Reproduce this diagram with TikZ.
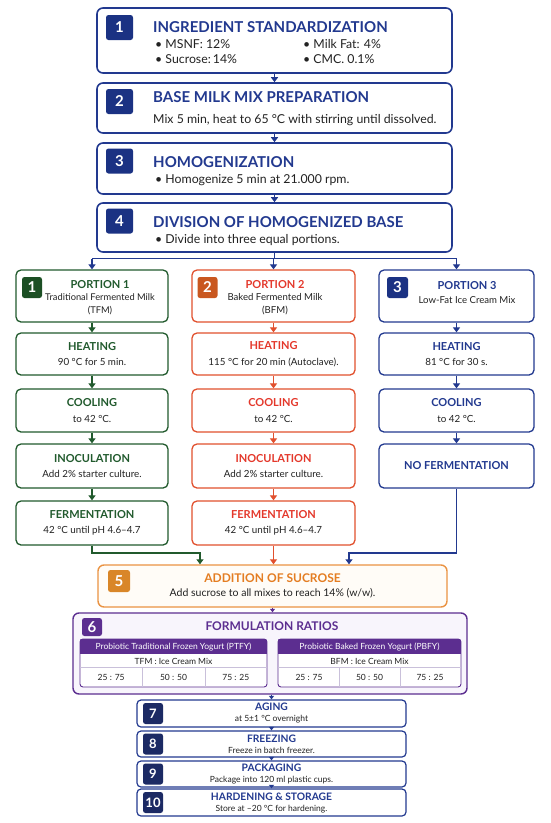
\documentclass[tikz,border=0pt]{standalone}
\usepackage{fontspec}
\setmainfont{Lato}
\usetikzlibrary{arrows.meta, calc}
\definecolor{navyline}{HTML}{22398F}
\definecolor{navybadge}{HTML}{1B3283}
\definecolor{navydeep}{HTML}{1C2A64}
\definecolor{greenline}{HTML}{215A2D}
\definecolor{greenbadge}{HTML}{1C4F24}
\definecolor{redline}{HTML}{E1502E}
\definecolor{redtitle}{HTML}{E4382B}
\definecolor{redbadge}{HTML}{C9571F}
\definecolor{orangeline}{HTML}{EA9343}
\definecolor{orangetitle}{HTML}{E47D22}
\definecolor{orangebadge}{HTML}{D98628}
\definecolor{orangefill}{HTML}{FFFCF7}
\definecolor{purpleline}{HTML}{5C2E90}
\definecolor{purplefill}{HTML}{F8F5FC}
\definecolor{gridline}{HTML}{C9C0DA}
\definecolor{bodytext}{HTML}{222222}
\newcommand{\fs}[2]{\fontsize{#1}{#2}\selectfont}
\newcommand{\steptitle}[2]{{\bfseries\fs{11}{15.5}\color{#1}#2}}
\tikzset{
  mainbox/.style={rectangle, rounded corners=6pt, draw=navyline, fill=white,
      line width=1.6pt, minimum width=355pt, inner sep=0pt},
  numbadge/.style={rectangle, rounded corners=2.5pt, fill=#1, text=white,
      inner sep=0pt, font=\bfseries\fs{15}{15}},
  maintitle/.style={anchor=base west, inner sep=0pt, text=navyline,
      font=\bfseries\fs{15}{18}},
  maintext/.style={anchor=base west, inner sep=0pt, text=bodytext,
      font=\fs{12.3}{14}},
  colbox/.style={rectangle, rounded corners=5pt, draw=#1, fill=white,
      line width=1.3pt, inner sep=0pt, align=center, text=bodytext,
      font=\fs{9.8}{15.5}},
  bottombox/.style={rectangle, rounded corners=4pt, draw=navyline, fill=white,
      line width=1.2pt, minimum width=269pt, inner sep=0pt, align=center,
      text=bodytext, font=\fs{8.5}{11}},
  flowarrow/.style={draw=#1, line width=1.3pt, -{Triangle[width=7pt,length=5pt]}},
  smallarrow/.style={draw=#1, line width=1pt, -{Triangle[width=5pt,length=3.5pt]}},
  celltext/.style={inner sep=0pt, text=bodytext, font=\fs{8.5}{10}}
}

\begin{document}
\begin{tikzpicture}[x=1pt, y=-1pt]
\useasboundingbox (0,0) rectangle (550,823);
\fill[white] (0,0) rectangle (550,823);

% main steps
\node[mainbox, minimum height=65pt] (s1) at (274.5,40.5) {};
\node[mainbox, minimum height=50pt] (s2) at (274.5,108) {};
\node[mainbox, minimum height=51pt] (s3) at (274.5,168.5) {};
\node[mainbox, minimum height=49pt] (s4) at (274.5,227.5) {};

\node[numbadge=navybadge, minimum width=27pt, minimum height=25pt] (n1) at (119.5,27.5) {1};
\node[numbadge=navybadge, minimum width=27pt, minimum height=25pt] (n2) at (119.5,101.5) {2};
\node[numbadge=navybadge, minimum width=27pt, minimum height=25pt] (n3) at (119.5,161) {3};
\node[numbadge=navybadge, minimum width=27pt, minimum height=25pt] (n4) at (119.5,221) {4};

\node[maintitle] (s1t) at (153,32) {INGREDIENT STANDARDIZATION};
\node[maintext] (s1a) at (155,48) {\textbullet\ MSNF: 12\%};
\node[maintext] (s1b) at (303,48) {\textbullet\ Milk Fat: 4\%};
\node[maintext] (s1c) at (155,63.5) {\textbullet\ Sucrose:\,14\%};
\node[maintext] (s1d) at (303,63.5) {\textbullet\ CMC. 0.1\%};
\node[maintitle] (s2t) at (153,102) {BASE MILK MIX PREPARATION};
\node[maintext] (s2a) at (153,123) {Mix 5 min, heat to 65 °C with stirring until dissolved.};
\node[maintitle] (s3t) at (153,167) {HOMOGENIZATION};
\node[maintext] (s3a) at (155,183) {\textbullet\ Homogenize 5 min at 21.000 rpm.};
\node[maintitle] (s4t) at (153,227) {DIVISION OF HOMOGENIZED BASE};
\node[maintext] (s4a) at (155,243) {\textbullet\ Divide into three equal portions.};

\draw[flowarrow=navyline] (s1) -- (s2);
\draw[flowarrow=navyline] (s2) -- (s3);
\draw[flowarrow=navyline] (s3) -- (s4);

% three portions
\node[colbox=greenline, minimum width=152pt, minimum height=52pt] (p1) at (92,296) {};
\node[colbox=redline, minimum width=163pt, minimum height=52pt] (p2) at (273.5,296) {};
\node[colbox=navyline, minimum width=155pt, minimum height=52pt] (p3) at (456.5,296) {};

\node[numbadge=greenbadge, minimum width=20pt, minimum height=21pt] (pb1) at (32,287.5) {1};
\node[numbadge=redbadge, minimum width=20pt, minimum height=21pt] (pb2) at (207.5,287.5) {2};
\node[numbadge=navybadge, minimum width=21pt, minimum height=21pt] (pb3) at (397.5,287.5) {3};

\node[align=center, inner sep=0pt, text=bodytext, font=\fs{9.3}{12.5}] (p1t) at (100,297.6)
  {{\bfseries\fs{11}{12.5}\color{greenline}PORTION 1}\\Traditional Fermented Milk\\(TFM)};
\node[align=center, inner sep=0pt, text=bodytext, font=\fs{9.6}{12.5}] (p2t) at (275,297.6)
  {{\bfseries\fs{11}{12.5}\color{redtitle}PORTION 2}\\Baked Fermented Milk\\(BFM)};
\node[align=center, inner sep=0pt, text=bodytext, font=\fs{9.6}{14}] (p3t) at (467,293)
  {{\bfseries\fs{11}{14}\color{navyline}PORTION 3}\\Low-Fat Ice Cream Mix};

\coordinate (split) at ($(s4.south)+(0,6)$);
\draw[navyline, line width=1.3pt] (s4.south) -- (split);
\draw[navyline, line width=1.3pt] (split -| p1) -- (split -| p3);
\draw[flowarrow=navyline] (split -| p1) -- (p1.north);
\draw[flowarrow=navyline] (split -| p2) -- (p2.north);
\draw[flowarrow=navyline] (split -| p3) -- (p3.north);

% portion 1
\node[colbox=greenline, minimum width=152pt, minimum height=42pt] (h1) at (92,354)
  {\steptitle{greenline}{HEATING}\\90 °C for 5 min.};
\node[colbox=greenline, minimum width=152pt, minimum height=43pt] (c1) at (92,410.5)
  {\steptitle{greenline}{COOLING}\\to 42 °C.};
\node[colbox=greenline, minimum width=152pt, minimum height=44pt] (i1) at (92,466)
  {\steptitle{greenline}{INOCULATION}\\Add 2\% starter culture.};
\node[colbox=greenline, minimum width=152pt, minimum height=44pt] (f1) at (92,523)
  {\steptitle{greenline}{FERMENTATION}\\42 °C until pH 4.6--4.7};

% portion 2
\node[colbox=redline, minimum width=163pt, minimum height=42pt] (h2) at (273.5,354)
  {\steptitle{redtitle}{HEATING}\\115 °C for 20 min (Autoclave).};
\node[colbox=redline, minimum width=163pt, minimum height=43pt] (c2) at (273.5,410.5)
  {\steptitle{redtitle}{COOLING}\\to 42 °C.};
\node[colbox=redline, minimum width=163pt, minimum height=44pt] (i2) at (273.5,466)
  {\steptitle{redtitle}{INOCULATION}\\Add 2\% starter culture.};
\node[colbox=redline, minimum width=163pt, minimum height=44pt] (f2) at (273.5,523)
  {\steptitle{redtitle}{FERMENTATION}\\42 °C until pH 4.6--4.7};

% portion 3
\node[colbox=navyline, minimum width=155pt, minimum height=42pt] (h3) at (456.5,354)
  {\steptitle{navyline}{HEATING}\\81 °C for 30 s.};
\node[colbox=navyline, minimum width=155pt, minimum height=43pt] (c3) at (456.5,410.5)
  {\steptitle{navyline}{COOLING}\\to 42 °C.};
\node[colbox=navyline, minimum width=155pt, minimum height=44pt] (nf3) at (456.5,466)
  {\steptitle{navyline}{NO FERMENTATION}};

\draw[flowarrow=greenline] (p1) -- (h1);
\draw[flowarrow=greenline] (h1) -- (c1);
\draw[flowarrow=greenline] (c1) -- (i1);
\draw[flowarrow=greenline] (i1) -- (f1);
\draw[flowarrow=redline] (p2) -- (h2);
\draw[flowarrow=redline] (h2) -- (c2);
\draw[flowarrow=redline] (c2) -- (i2);
\draw[flowarrow=redline] (i2) -- (f2);
\draw[flowarrow=navyline] (p3) -- (h3);
\draw[flowarrow=navyline] (h3) -- (c3);
\draw[flowarrow=navyline] (c3) -- (nf3);

% sucrose
\node[rectangle, rounded corners=6pt, draw=orangeline, fill=orangefill, line width=1.4pt,
      minimum width=349pt, minimum height=42pt, inner sep=0pt, align=center,
      text=bodytext, font=\fs{10.5}{14}] (s5) at (272.5,586)
  {{\bfseries\fs{12}{14}\color{orangetitle}ADDITION OF SUCROSE}\\Add sucrose to all mixes to reach 14\% (w/w).};
\node[numbadge=orangebadge, minimum width=22pt, minimum height=22pt] (n5) at (119,581) {5};

\coordinate (joinl) at (200,553);
\coordinate (joinr) at (349,553);
\draw[flowarrow=greenline] (f1.south) |- (joinl) -- (joinl |- s5.north);
\draw[flowarrow=redline] (f2.south) -- (f2.south |- s5.north);
\draw[flowarrow=navyline] (nf3.south) |- (joinr) -- (joinr |- s5.north);

% formulation ratios
\node[rectangle, rounded corners=6pt, draw=purpleline, fill=purplefill, line width=1.4pt,
      minimum width=394pt, minimum height=81pt, inner sep=0pt] (s6) at (270,653.5) {};
\node[numbadge=purpleline, minimum width=20pt, minimum height=18pt] (n6) at (92,627) {6};
\node[anchor=base, inner sep=0pt, text=purpleline, font=\bfseries\fs{12}{14}] (s6t) at (272,630)
  {FORMULATION RATIOS};
\draw[smallarrow=purpleline] (s5.south) -- (s5.south |- s6.north);

\node[rectangle, rounded corners=3pt, draw=purpleline, fill=white, line width=0.9pt,
      minimum width=187pt, minimum height=48pt, inner sep=0pt] (ptfy) at (173.5,663) {};
\begin{scope}
  \clip[rounded corners=3pt] (ptfy.south west) rectangle (ptfy.north east);
  \fill[purpleline] (ptfy.north west) rectangle ($(ptfy.north east)+(0,15)$);
\end{scope}
\draw[gridline, line width=0.6pt] ($(ptfy.north west)+(0,29)$) -- ($(ptfy.north east)+(0,29)$);
\draw[gridline, line width=0.6pt] ($(ptfy.south west)!1/3!(ptfy.south east)$) -- +(0,-19);
\draw[gridline, line width=0.6pt] ($(ptfy.south west)!2/3!(ptfy.south east)$) -- +(0,-19);
\node[celltext, text=white] (ptfyh) at (173.5,646.5) {Probiotic Traditional Frozen Yogurt (PTFY)};
\node[celltext] (ptfym) at (173.5,661) {TFM : Ice Cream Mix};
\node[celltext] (ptfya) at (111.2,677.5) {25 : 75};
\node[celltext] (ptfyb) at (173.5,677.5) {50 : 50};
\node[celltext] (ptfyc) at (235.8,677.5) {75 : 25};

\node[rectangle, rounded corners=3pt, draw=purpleline, fill=white, line width=0.9pt,
      minimum width=183pt, minimum height=48pt, inner sep=0pt] (pbfy) at (369.5,663) {};
\begin{scope}
  \clip[rounded corners=3pt] (pbfy.south west) rectangle (pbfy.north east);
  \fill[purpleline] (pbfy.north west) rectangle ($(pbfy.north east)+(0,15)$);
\end{scope}
\draw[gridline, line width=0.6pt] ($(pbfy.north west)+(0,29)$) -- ($(pbfy.north east)+(0,29)$);
\draw[gridline, line width=0.6pt] ($(pbfy.south west)!1/3!(pbfy.south east)$) -- +(0,-19);
\draw[gridline, line width=0.6pt] ($(pbfy.south west)!2/3!(pbfy.south east)$) -- +(0,-19);
\node[celltext, text=white] (pbfyh) at (369.5,646.5) {Probiotic Baked Frozen Yogurt (PBFY)};
\node[celltext] (pbfym) at (369.5,661) {BFM : Ice Cream Mix};
\node[celltext] (pbfya) at (309,677.5) {25 : 75};
\node[celltext] (pbfyb) at (369.5,677.5) {50 : 50};
\node[celltext] (pbfyc) at (430,677.5) {75 : 25};

% final steps
\node[bottombox, minimum height=27pt] (b7) at (271.5,713.5)
  {{\bfseries\fs{10.3}{11}\color{navyline}AGING}\\at 5±1 °C overnight};
\node[bottombox, minimum height=26pt] (b8) at (271.5,744)
  {{\bfseries\fs{10.3}{11}\color{navyline}FREEZING}\\Freeze in batch freezer.};
\node[bottombox, minimum height=26pt] (b9) at (271.5,774)
  {{\bfseries\fs{10.3}{11}\color{navyline}PACKAGING}\\Package into 120 ml plastic cups.};
\node[bottombox, minimum height=27pt] (b10) at (271.5,802.5)
  {{\bfseries\fs{10.3}{11}\color{navyline}HARDENING \& STORAGE}\\Store at --20 °C for hardening.};

\node[numbadge=navydeep, minimum width=20pt, minimum height=21pt, font=\bfseries\fs{13}{13}] (n7) at (153,713.5) {7};
\node[numbadge=navydeep, minimum width=20pt, minimum height=21pt, font=\bfseries\fs{13}{13}] (n8) at (153,744) {8};
\node[numbadge=navydeep, minimum width=20pt, minimum height=21pt, font=\bfseries\fs{13}{13}] (n9) at (153,774) {9};
\node[numbadge=navydeep, minimum width=20pt, minimum height=21pt, font=\bfseries\fs{13}{13}] (n10) at (153,802.5) {10};

\draw[smallarrow=navyline] (s6.south -| b7) -- (b7.north);
\draw[smallarrow=navyline] (b7) -- (b8);
\draw[smallarrow=navyline] (b8) -- (b9);
\draw[smallarrow=navyline] (b9) -- (b10);
\end{tikzpicture}
\end{document}
